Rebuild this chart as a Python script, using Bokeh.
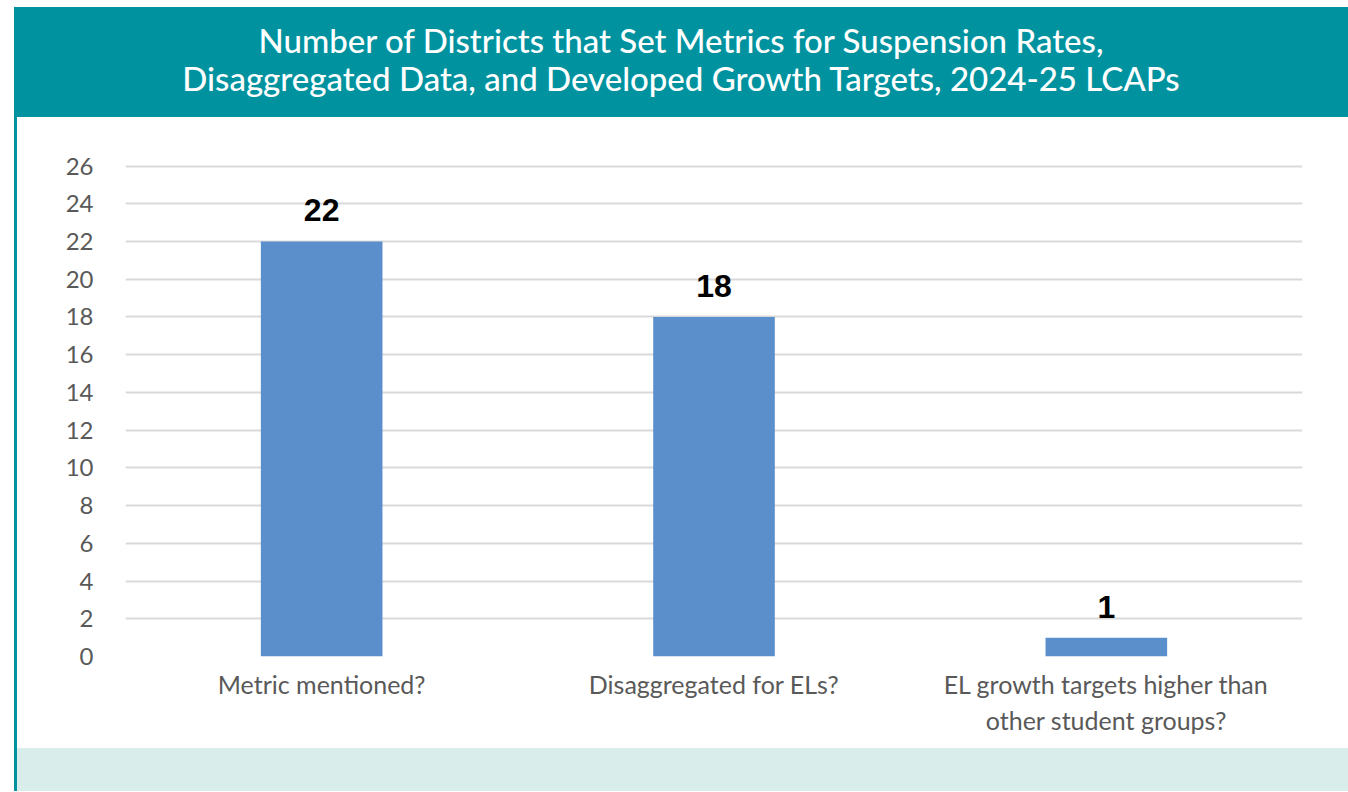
from bokeh.plotting import figure
from bokeh.models import (ColumnDataSource, FactorRange, Range1d, LabelSet,
                          SingleIntervalTicker, Div)
from bokeh.core.properties import value
from bokeh.layouts import column, row
from bokeh.embed import file_html
from bokeh.resources import INLINE

# ---- data ----
title_lines = [
    "Number of Districts that Set Metrics for Suspension Rates,",
    "Disaggregated Data, and Developed Growth Targets, 2024-25 LCAPs",
]
categories = [
    "Metric mentioned?",
    "Disaggregated for ELs?",
    "EL growth targets higher than\nother student groups?",
]
values = [22, 18, 1]
y_max = 26
y_step = 2

TEAL = "#00939F"
BAND = "#D9EEEB"
BAR = "#5A8FCB"
GRID = "#D9D9D9"
TXT = "#595959"

# ---- header ----
header_html = (
    f'<div style="margin-left:6px;width:1334px;height:110px;background:{TEAL};'
    'display:flex;flex-direction:column;justify-content:center;align-items:center;'
    'font-family:Lato;font-weight:500;font-size:33px;color:white;line-height:38px;'
    'padding-bottom:6px;box-sizing:border-box;">'
    + "".join(f"<div>{t}</div>" for t in title_lines)
    + "</div>"
)
header = Div(text=header_html, width=1340, height=110, margin=0)

# ---- chart ----
src = ColumnDataSource(dict(cat=categories, val=values, lab=[str(v) for v in values]))

p = figure(
    x_range=FactorRange(*categories),
    y_range=Range1d(0, y_max + 0.08),
    width=1331, height=631,
    output_backend="svg", toolbar_location=None,
    min_border_left=108, min_border_right=46,
    min_border_top=47, min_border_bottom=92,
    background_fill_color="white", border_fill_color="white",
)
p.outline_line_color = None
p.vbar(x="cat", top="val", width=0.31, source=src, fill_color=BAR, line_color=None)

labels = LabelSet(x="cat", y="val", text="lab", source=src, y_offset=20,
                  text_align="center", text_baseline="alphabetic",
                  text_font=value("Liberation Sans"), text_font_style="bold",
                  text_font_size="32px", text_color="black")
p.add_layout(labels)

p.xgrid.grid_line_color = None
p.ygrid.grid_line_color = GRID
p.ygrid.grid_line_width = 2

p.yaxis.ticker = SingleIntervalTicker(interval=y_step, num_minor_ticks=0)
for ax in (p.xaxis, p.yaxis):
    ax.axis_line_color = None
    ax.major_tick_line_color = None
    ax.minor_tick_line_color = None
    ax.major_label_text_font = "Lato"
    ax.major_label_text_color = TXT
p.yaxis.major_label_text_font_size = "24px"
p.xaxis.major_label_text_font_size = "25px"
p.yaxis.major_label_standoff = 26
p.xaxis.major_label_standoff = 6

strip = Div(text=f'<div style="margin-left:6px;width:3px;height:631px;background:{TEAL};"></div>',
            width=9, height=631, margin=0)

bottom = Div(text=(f'<div style="margin-left:6px;width:1334px;height:43px;'
                   f'border-left:3px solid {TEAL};background:{BAND};box-sizing:border-box;"></div>'),
             width=1340, height=43, margin=0)

layout = column(header, row(strip, p, spacing=0), bottom, spacing=0, margin=(7, 0, 0, 8))

open("out.html", "w").write(file_html(layout, INLINE))
